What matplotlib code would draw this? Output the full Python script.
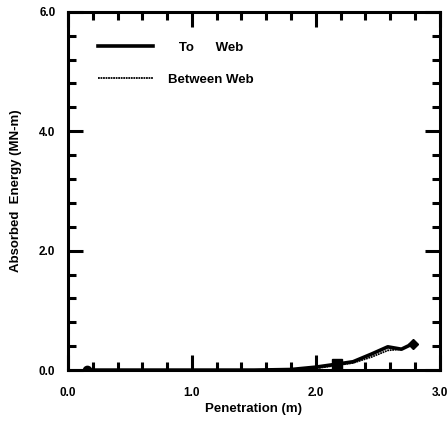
import matplotlib.pyplot as plt
from matplotlib.ticker import MultipleLocator

# data
to_web_x = [0.15, 0.5, 1.0, 1.5, 1.8, 2.0, 2.17, 2.3, 2.45, 2.58, 2.69, 2.78]
to_web_y = [0.0, 0.0, 0.0, 0.0, 0.01, 0.05, 0.1, 0.14, 0.27, 0.39, 0.35, 0.44]
between_x = [0.15, 0.5, 1.0, 1.5, 1.8, 2.0, 2.17, 2.3, 2.45, 2.58, 2.69, 2.78]
between_y = [0.0, 0.0, 0.0, 0.0, 0.0, 0.03, 0.08, 0.12, 0.22, 0.33, 0.35, 0.44]

xticks = [0.0, 1.0, 2.0, 3.0]
yticks = [0.0, 2.0, 4.0, 6.0]

plt.rcParams['font.family'] = ['Liberation Sans Narrow', 'Liberation Sans', 'DejaVu Sans']

fig = plt.figure(figsize=(4.47, 4.22), dpi=100)
ax = fig.add_axes([0.152, 0.123, 0.832, 0.849])

ax.plot(to_web_x, to_web_y, color='black', lw=2.6, label='   To      Web')
ax.plot(between_x, between_y, color='black', lw=1.3, ls=(0, (1, 0.4)), label='Between Web')
# end markers
ax.plot([to_web_x[0]], [to_web_y[0]], 'o', color='black', ms=6)
ax.plot([to_web_x[6]], [to_web_y[6]], 's', color='black', ms=7)
ax.plot([to_web_x[-1]], [to_web_y[-1]], 'D', color='black', ms=5)

ax.set_xlim(0, 3)
ax.set_ylim(0, 6)
ax.set_xticks(xticks)
ax.set_yticks(yticks)
ax.set_xticklabels([f"{v:.1f}" for v in xticks], fontweight='bold', fontsize=8.5)
ax.set_yticklabels([f"{v:.1f}" for v in yticks], fontweight='bold', fontsize=8.5)
ax.xaxis.set_minor_locator(MultipleLocator(0.2))
ax.yaxis.set_minor_locator(MultipleLocator(0.4))
ax.tick_params(which='both', direction='in', top=True, right=True, width=2.2)
ax.tick_params(axis='x', which='major', length=11, pad=12)
ax.tick_params(axis='y', which='major', length=11, pad=9)
ax.tick_params(which='minor', length=6)
for s in ax.spines.values():
    s.set_linewidth(2.2)

ax.set_xlabel('Penetration (m)', fontweight='bold', fontsize=9.5, family='Liberation Sans', labelpad=3)
ax.set_ylabel('Absorbed  Energy (MN-m)', fontweight='bold', fontsize=9.5, family='Liberation Sans', labelpad=12)

leg = ax.legend(loc='upper left', bbox_to_anchor=(0.05, 0.95), frameon=False,
                handlelength=4.1, handletextpad=1.2, labelspacing=1.5,
                prop={'family': 'Liberation Sans', 'weight': 'bold', 'size': 9.5})

plt.savefig('out.png', dpi=100)
